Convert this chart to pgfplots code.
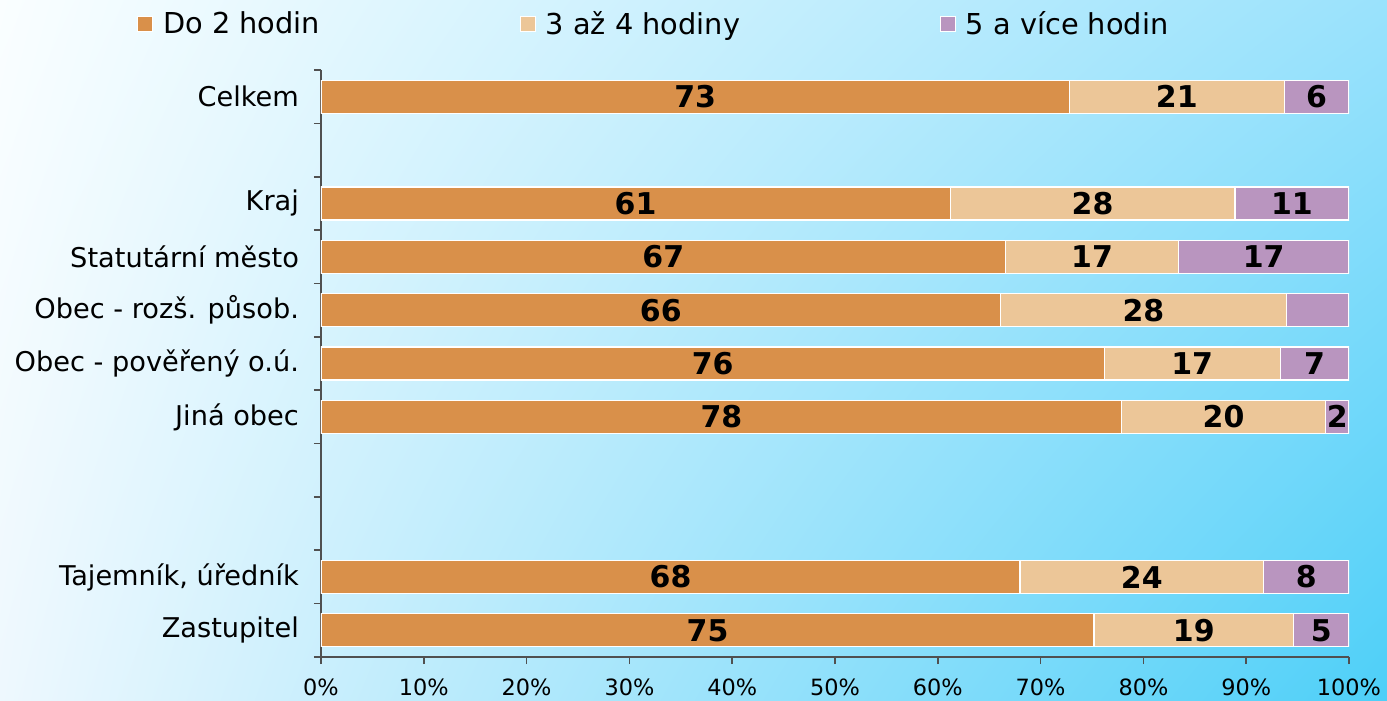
\documentclass[border=0pt]{standalone}
\usepackage{fontspec}
\setmainfont{DejaVu Sans}
\usepackage{pgfplots}
\pgfplotsset{compat=1.18}
\usetikzlibrary{shadings}
\definecolor{cOr}{RGB}{217,144,74}
\definecolor{cBe}{RGB}{236,198,152}
\definecolor{cPu}{RGB}{185,149,191}
\definecolor{axgray}{RGB}{80,80,80}
\definecolor{bgTL}{RGB}{250,254,255}
\definecolor{bgTR}{RGB}{154,226,252}
\definecolor{bgBL}{RGB}{238,248,254}
\definecolor{bgBR}{RGB}{77,207,248}
\begin{document}
\begin{tikzpicture}
\useasboundingbox (0,0) rectangle (693.5pt,350.5pt);
\shade[upper left=bgTL, upper right=bgTR, lower left=bgBL, lower right=bgBR] (0,0) rectangle (693.5pt,350.5pt);
\begin{axis}[
  at={(160.5pt,22pt)}, anchor=south west,
  width=514pt, height=293.5pt, scale only axis,
  xbar stacked, bar width=16.5pt,
  xmin=0, xmax=100, ymin=-0.5, ymax=10.5, y dir=reverse,
  axis x line*=bottom, axis y line*=left,
  axis line style={draw=axgray, line width=0.8pt},
  /pgf/number format/assume math mode=true,
  xtick={0,10,...,100},
  xticklabel={\pgfmathprintnumber{\tick}\%},
  xticklabel style={font=\fontsize{11.2}{13}\selectfont, yshift=-4pt},
  ytick={-0.5,0.5,...,10.5}, yticklabels={},
  tick align=outside, major tick length=3.5pt,
  tick style={draw=axgray, line width=0.8pt},
  extra y ticks={0,2,3,4,5,6,9,10},
  extra y tick labels={Celkem,Kraj,Statutární město,Obec - rozš. působ.,Obec - pověřený o.ú.,Jiná obec,{Tajemník, úředník},Zastupitel},
  extra y tick style={major tick length=0pt, tick style={draw=none},
     yticklabel style={font=\fontsize{13.6}{16}\selectfont, xshift=-7.5pt}},
  every axis plot/.append style={draw=white, line width=0.6pt},
  point meta=explicit symbolic,
  nodes near coords={\pgfplotspointmeta},
  every node near coord/.append style={anchor=center, text=black,
     font=\fontsize{15}{17}\selectfont\bfseries},
  legend columns=3,
  legend style={draw=none, fill=none, at={(-0.1761,1)}, anchor=west, yshift=23pt, xshift=-4.5pt,
     font=\fontsize{14.4}{17}\selectfont,
     /tikz/every odd column/.append style={column sep=3pt},
     /tikz/every even column/.append style={column sep=98pt}},
  legend image code/.code={\draw[#1, draw=white, line width=0.4pt] (0pt,-3.75pt) rectangle (7.5pt,3.75pt);},
]
\addplot[fill=cOr] table[x=x, y=y, meta=lab] {
x y lab
72.8 0 73
61.2 2 61
66.6 3 67
66.1 4 66
76.2 5 76
77.9 6 78
68.0 9 68
75.2 10 75
};
\addplot[fill=cBe] table[x=x, y=y, meta=lab] {
x y lab
20.9 0 21
27.7 2 28
16.8 3 17
27.8 4 28
17.1 5 17
19.8 6 20
23.7 9 24
19.4 10 19
};
\addplot[fill=cPu] table[x=x, y=y, meta=lab] {
x y lab
6.3 0 6
11.1 2 11
16.6 3 17
6.1 4 {}
6.7 5 7
2.3 6 2
8.3 9 8
5.4 10 5
};
\legend{Do 2 hodin, 3 až 4 hodiny, 5 a více hodin}
\end{axis}
\end{tikzpicture}
\end{document}
